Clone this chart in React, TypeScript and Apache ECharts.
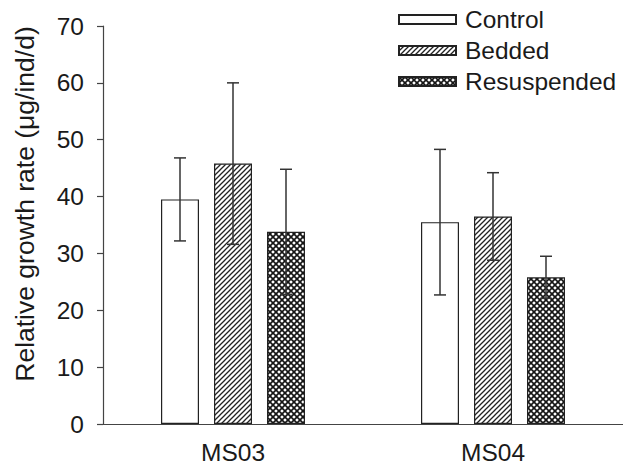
import React, { useEffect, useRef } from "react";
import * as echarts from "echarts";

const categories = ["MS03", "MS04"];
const seriesNames = ["Control", "Bedded", "Resuspended"];
const controlValues = [39.5, 35.5];
const controlErrors = [7.3, 12.8];
const beddedValues = [45.8, 36.5];
const beddedErrors = [14.2, 7.7];
const resuspendedValues = [33.8, 25.8];
const resuspendedErrors = [11.0, 3.7];
const yTicks = { min: 0, max: 70, interval: 10 };
const yAxisTitle = "Relative growth rate (μg/ind/d)";

const FONT = "'Liberation Sans', Arial, Helvetica, sans-serif";
const BAR_W = 38;
const BAR_GAP = 15;

function makeHatch(): string {
  const c = document.createElement("canvas");
  c.width = 5;
  c.height = 5;
  const g = c.getContext("2d")!;
  g.fillStyle = "#fff";
  g.fillRect(0, 0, 5, 5);
  g.strokeStyle = "#222";
  g.lineWidth = 1.3;
  g.beginPath();
  g.moveTo(-1, 6); g.lineTo(6, -1);
  g.moveTo(-1, 1); g.lineTo(1, -1);
  g.moveTo(4, 6); g.lineTo(6, 4);
  g.stroke();
  return c.toDataURL();
}

function makeCross(): string {
  const c = document.createElement("canvas");
  c.width = 6;
  c.height = 6;
  const g = c.getContext("2d")!;
  g.fillStyle = "#fff";
  g.fillRect(0, 0, 6, 6);
  g.strokeStyle = "#151515";
  g.lineWidth = 1.65;
  g.beginPath();
  g.moveTo(-1, -1); g.lineTo(7, 7);
  g.moveTo(-1, 7); g.lineTo(7, -1);
  g.stroke();
  return c.toDataURL();
}

export default function App() {
  const ref = useRef<HTMLDivElement>(null);
  useEffect(() => {
    if (!ref.current) return;
    const chart = echarts.init(ref.current, null, { renderer: "svg" });
    const hatch = { image: makeHatch(), repeat: "repeat", imageWidth: 5, imageHeight: 5 };
    const cross = { image: makeCross(), repeat: "repeat", imageWidth: 6, imageHeight: 6 };
    const fills: any[] = ["#ffffff", hatch, cross];
    const values = [controlValues, beddedValues, resuspendedValues];
    const errors = [controlErrors, beddedErrors, resuspendedErrors];

    const barSeries = seriesNames.map((name, i) => ({
      name,
      type: "bar",
      barWidth: BAR_W,
      barGap: `${(BAR_GAP / BAR_W) * 100}%`,
      data: values[i],
      itemStyle: { color: fills[i], borderColor: "#222", borderWidth: 1.2 },
      z: 2,
    }));

    const errSeries = seriesNames.map((name, i) => ({
      name: name + " error",
      type: "custom",
      z: 4,
      data: values[i].map((v, k) => [k, v, errors[i][k]]),
      encode: { x: 0, y: 1 },
      renderItem: (params: any, api: any) => {
        const ci = api.value(0);
        const v = api.value(1);
        const e = api.value(2);
        const cx = api.coord([ci, v])[0] + (i - 1) * (BAR_W + BAR_GAP);
        const top = api.coord([ci, v + e])[1];
        const bot = api.coord([ci, v - e])[1];
        const st = { stroke: "#333", lineWidth: 1.5 };
        return {
          type: "group",
          children: [
            { type: "line", shape: { x1: cx, y1: top, x2: cx, y2: bot }, style: st },
            { type: "line", shape: { x1: cx - 6, y1: top, x2: cx + 6, y2: top }, style: st },
            { type: "line", shape: { x1: cx - 6, y1: bot, x2: cx + 6, y2: bot }, style: st },
          ],
        };
      },
    }));

    chart.setOption({
      animation: false,
      backgroundColor: "#ffffff",
      grid: { left: 103, top: 26, width: 524, height: 398, containLabel: false },
      legend: {
        orient: "vertical",
        left: 393,
        top: 2,
        itemWidth: 57,
        itemHeight: 9,
        itemGap: 6,
        icon: "rect",
        data: seriesNames,
        textStyle: { fontFamily: FONT, fontSize: 24.5, color: "#1a1a1a", padding: [0, 0, 0, 4], lineHeight: 24 },
      },
      xAxis: {
        type: "category",
        data: categories,
        axisLine: { lineStyle: { color: "#444", width: 1.2 } },
        axisTick: { alignWithLabel: true, length: 6, lineStyle: { color: "#444", width: 1.2 } },
        axisLabel: { fontFamily: FONT, fontSize: 24.5, color: "#1a1a1a", margin: 16 },
        splitLine: { show: false },
      },
      yAxis: {
        type: "value",
        min: yTicks.min,
        max: yTicks.max,
        interval: yTicks.interval,
        axisLine: { show: true, lineStyle: { color: "#444", width: 1.2 } },
        axisTick: { show: true, length: 6, lineStyle: { color: "#444", width: 1.2 } },
        axisLabel: { fontFamily: FONT, fontSize: 24.5, color: "#1a1a1a", margin: 19 },
        splitLine: { show: false },
      },
      graphic: [
        {
          type: "text",
          x: 25,
          y: 204,
          rotation: Math.PI / 2,
          style: {
            text: yAxisTitle,
            fontFamily: FONT,
            fontSize: 26.5,
            fill: "#1a1a1a",
            align: "center",
            verticalAlign: "middle",
          },
        },
      ],
      series: [...barSeries, ...errSeries],
    });
    return () => chart.dispose();
  }, []);
  return <div ref={ref} style={{ width: 623, height: 468, position: "absolute", left: 0, top: 0 }} />;
}
